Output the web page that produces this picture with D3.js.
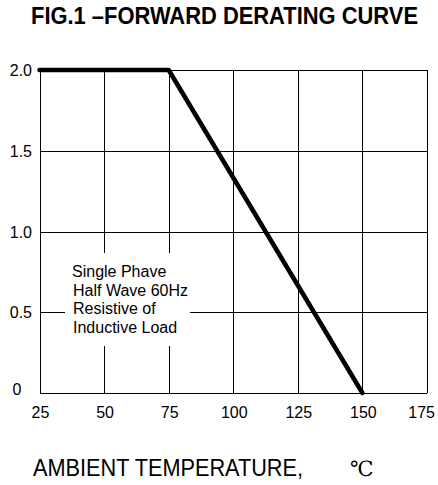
<!doctype html>
<html>
<head>
<meta charset="utf-8">
<style>
  body { margin: 0; background: #fff; }
  svg { display: block; }
  text { font-family: Arial, "Liberation Sans", sans-serif; fill: #000; }
</style>
</head>
<body>
<svg></svg>
<script src="https://d3js.org/d3.v7.min.js"></script>
<script>

let width = 438,
    height = 485;

// chart data
let xTicks = [25, 50, 75, 100, 125, 150, 175];
let yTicks = [0, 0.5, 1.0, 1.5, 2.0];
let yTickLabels = ["0", "0.5", "1.0", "1.5", "2.0"];
let curveTemp = [25, 75, 150];
let curveCurrent = [2.0, 2.0, 0];
let noteLines = ["Single Phave", "Half Wave 60Hz", "Resistive of", "Inductive Load"];

let svg = d3.select("svg")
    .attr("width", width)
    .attr("height", height);

let x = d3.scaleLinear().domain([25, 175]).range([39.5, 427]);
let y = d3.scaleLinear().domain([0, 2.0]).range([393, 70]);

// title
svg.append("text")
    .attr("x", 31)
    .attr("y", 24)
    .attr("font-size", 23)
    .attr("font-weight", "bold")
    .attr("textLength", 387)
    .attr("lengthAdjust", "spacingAndGlyphs")
    .text("FIG.1 \u2013FORWARD DERATING CURVE");

// grid
let grid = svg.append("g")
    .attr("stroke", "#000")
    .attr("stroke-width", 1)
    .attr("shape-rendering", "crispEdges");

grid.selectAll("line.v")
  .data(xTicks)
  .enter()
  .append("line")
    .attr("class", "v")
    .attr("x1", d => Math.round(x(d)) + 0.5)
    .attr("x2", d => Math.round(x(d)) + 0.5)
    .attr("y1", y(0))
    .attr("y2", y(2.0));

grid.selectAll("line.h")
  .data(yTicks)
  .enter()
  .append("line")
    .attr("class", "h")
    .attr("x1", x(25))
    .attr("x2", x(175))
    .attr("y1", d => Math.round(y(d)) + 0.5)
    .attr("y2", d => Math.round(y(d)) + 0.5);

// y tick labels
svg.append("g")
  .selectAll("text")
  .data(yTicks)
  .enter()
  .append("text")
    .attr("x", d => d === 0 ? 17 : 32)
    .attr("y", d => d === 0 ? y(d) + 2 : y(d) + 6)
    .attr("text-anchor", d => d === 0 ? "middle" : "end")
    .attr("font-size", 16)
    .text((d, i) => yTickLabels[i]);

// x tick labels (last one kept inside the page)
svg.append("g")
  .selectAll("text")
  .data(xTicks)
  .enter()
  .append("text")
    .attr("x", (d, i) => i === xTicks.length - 1 ? 435 : x(d) + 1)
    .attr("y", 418)
    .attr("text-anchor", (d, i) => i === xTicks.length - 1 ? "end" : "middle")
    .attr("font-size", 16)
    .text(d => d);

// note box (white patch hides the grid behind the text)
svg.append("rect")
    .attr("x", 65)
    .attr("y", 253)
    .attr("width", 125)
    .attr("height", 93)
    .attr("fill", "#fff");

svg.append("g")
  .selectAll("text")
  .data(noteLines)
  .enter()
  .append("text")
    .attr("x", (d, i) => i === 0 ? 72 : 73)
    .attr("y", (d, i) => 277 + i * 18.7)
    .attr("font-size", 16)
    .text(d => d);

// derating curve
let line = d3.line()
    .x(d => x(d[0]))
    .y(d => y(d[1]));

svg.append("path")
    .datum(curveTemp.map((t, i) => [t, curveCurrent[i]]))
    .attr("fill", "none")
    .attr("stroke", "#000")
    .attr("stroke-width", 4.5)
    .attr("stroke-linecap", "round")
    .attr("stroke-linejoin", "round")
    .attr("d", line);

// x axis title
svg.append("text")
    .attr("x", 33)
    .attr("y", 476)
    .attr("font-size", 24)
    .attr("textLength", 270)
    .attr("lengthAdjust", "spacingAndGlyphs")
    .text("AMBIENT TEMPERATURE,");

svg.append("text")
    .attr("x", 350)
    .attr("y", 476)
    .attr("font-size", 21)
    .style("font-family", "'Liberation Serif', 'DejaVu Serif', serif")
    .text("\u2103");

</script>
</body>
</html>
